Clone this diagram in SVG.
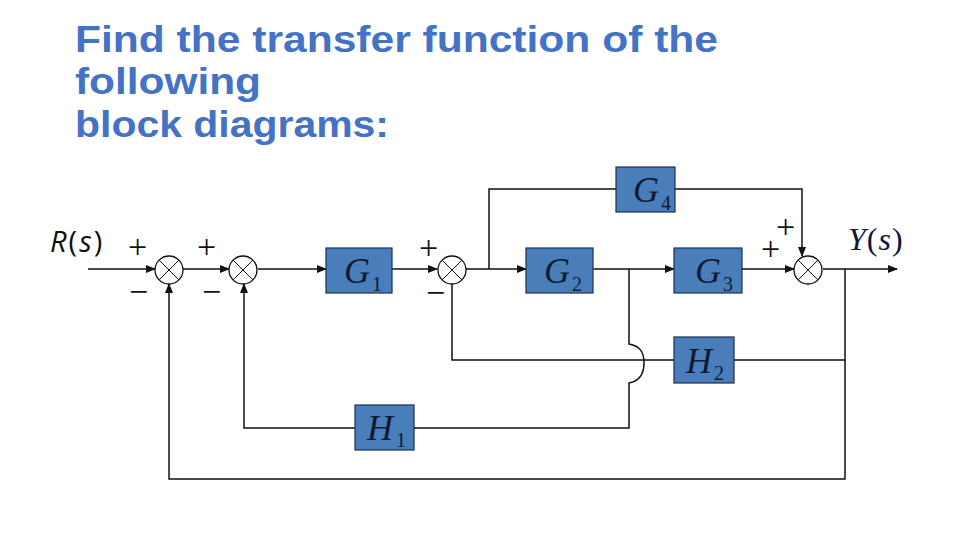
<svg xmlns="http://www.w3.org/2000/svg" width="960" height="540" viewBox="0 0 960 540">
<style>
.title{font-family:"Liberation Sans",Arial,sans-serif;font-weight:bold;font-size:37px;fill:#4472C4}
.blk{fill:#4A7EBB;stroke:#1F2F4F;stroke-width:1.2}
.lbl{font-family:"Liberation Serif",serif;font-style:italic;font-size:36px;fill:#0E1A33}
.sub{font-style:normal;font-size:20px}
.sum{fill:#fff;stroke:#111;stroke-width:1.3}
.x{stroke:#111;stroke-width:1}
.ln{fill:none;stroke:#111;stroke-width:1.5}
.sg{font-family:"Liberation Serif",serif;font-size:34px;fill:#111}
</style>
<defs>
<marker id="ar" markerWidth="10" markerHeight="8" refX="9" refY="4" orient="auto" markerUnits="userSpaceOnUse">
<path d="M0,0 L10,4 L0,8 Z" fill="#111"/>
</marker>
</defs>
<rect width="960" height="540" fill="#fff"/>
<g id="title">
<text class="title" x="75" y="52" textLength="643" lengthAdjust="spacingAndGlyphs">Find the transfer function of the</text>
<text class="title" x="75" y="94" textLength="186" lengthAdjust="spacingAndGlyphs">following</text>
<text class="title" x="75" y="137" textLength="314" lengthAdjust="spacingAndGlyphs">block diagrams:</text>
</g>
<g id="connectors">
<path class="ln" d="M88 269 H155" marker-end="url(#ar)"/>
<path class="ln" d="M183 269 H229" marker-end="url(#ar)"/>
<path class="ln" d="M258 269 H326" marker-end="url(#ar)"/>
<path class="ln" d="M392 269 H437" marker-end="url(#ar)"/>
<path class="ln" d="M466 269 H526" marker-end="url(#ar)"/>
<path class="ln" d="M593 269 H674" marker-end="url(#ar)"/>
<path class="ln" d="M742 269 H794" marker-end="url(#ar)"/>
<path class="ln" d="M823 269 H897" marker-end="url(#ar)"/>
<path class="ln" d="M489 269 V189 H616"/>
<path class="ln" d="M675 189 H802 V256" marker-end="url(#ar)"/>
<path class="ln" d="M845 269 V360 H734"/>
<path class="ln" d="M674 360 H452 V284"/>
<path class="ln" d="M629 269 V344 C640 346 644 352 644 363 C644 374 640 381 629 383 V428 H414"/>
<path class="ln" d="M355 428 H244 V284" marker-end="url(#ar)"/>
<path class="ln" d="M845 360 V479 H169 V284" marker-end="url(#ar)"/>
</g>
<g id="sum1">
<circle class="sum" cx="169" cy="270" r="14"/>
<path class="x" d="M159.1 260.1 L178.9 279.9 M178.9 260.1 L159.1 279.9"/>
</g>
<g id="sum2">
<circle class="sum" cx="243" cy="270" r="14"/>
<path class="x" d="M233.1 260.1 L252.9 279.9 M252.9 260.1 L233.1 279.9"/>
</g>
<g id="sum3">
<circle class="sum" cx="452" cy="270" r="14"/>
<path class="x" d="M442.1 260.1 L461.9 279.9 M461.9 260.1 L442.1 279.9"/>
</g>
<g id="sum4">
<circle class="sum" cx="808" cy="270" r="14"/>
<path class="x" d="M798.1 260.1 L817.9 279.9 M817.9 260.1 L798.1 279.9"/>
</g>
<g id="signs">
<text class="sg" x="128" y="258">+</text>
<text class="sg" x="129" y="303">−</text>
<text class="sg" x="197" y="258">+</text>
<text class="sg" x="202" y="303">−</text>
<text class="sg" x="419" y="259">+</text>
<text class="sg" x="426" y="304">−</text>
<text class="sg" x="776" y="238">+</text>
<text class="sg" x="761" y="260">+</text>
</g>
<g id="R">
<text x="50" y="252" font-family="'Open Sans','Noto Sans',sans-serif" font-size="29" letter-spacing="2" fill="#111"><tspan font-style="italic">R</tspan>(<tspan font-style="italic">s</tspan>)</text>
</g>
<g id="Y">
<text x="848" y="250" font-family="'Liberation Serif',serif" font-size="32" letter-spacing="1" fill="#0E1A33"><tspan font-style="italic">Y</tspan>(<tspan font-style="italic">s</tspan>)</text>
</g>
<g id="G1">
<rect class="blk" x="326" y="248" width="66" height="45"/>
<text class="lbl" x="344" y="283">G<tspan class="sub" dx="2" dy="8">1</tspan></text>
</g>
<g id="G2">
<rect class="blk" x="526" y="248" width="67" height="45"/>
<text class="lbl" x="544" y="283">G<tspan class="sub" dx="2" dy="8">2</tspan></text>
</g>
<g id="G3">
<rect class="blk" x="674" y="248" width="68" height="45"/>
<text class="lbl" x="695" y="283">G<tspan class="sub" dx="2" dy="8">3</tspan></text>
</g>
<g id="G4">
<rect class="blk" x="616" y="167" width="59" height="45"/>
<text class="lbl" x="633" y="202">G<tspan class="sub" dx="2" dy="8">4</tspan></text>
</g>
<g id="H2">
<rect class="blk" x="674" y="337" width="60" height="46"/>
<text class="lbl" x="686" y="373">H<tspan class="sub" dx="2" dy="7">2</tspan></text>
</g>
<g id="H1">
<rect class="blk" x="355" y="405" width="59" height="45"/>
<text class="lbl" x="367" y="440">H<tspan class="sub" dx="3" dy="7">1</tspan></text>
</g>
</svg>
